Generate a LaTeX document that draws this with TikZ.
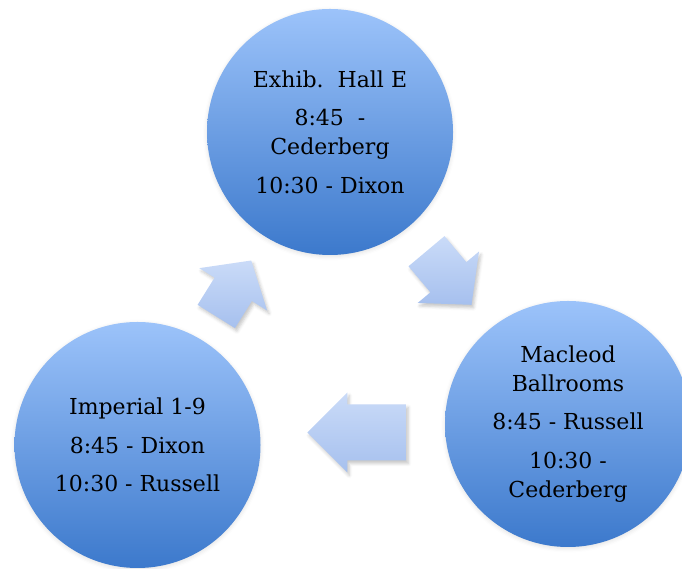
\documentclass[tikz,border=0pt]{standalone}
\usepackage{fontspec}
\setmainfont{DejaVu Serif}
\usetikzlibrary{calc,shadows.blur}
\definecolor{circtop}{HTML}{9CC3FA}
\definecolor{circbot}{HTML}{3C79CC}
\definecolor{arrtop}{HTML}{CADBF8}
\definecolor{arrbot}{HTML}{A6C0EE}
\tikzset{
  stage/.style={circle, minimum size=246pt, inner sep=0pt, top color=circtop,
    bottom color=circbot, draw=none, align=center,
    font=\fontsize{22}{29}\selectfont, text=black,
    blur shadow={shadow xshift=0pt, shadow yshift=-1.5pt, shadow opacity=12, shadow blur radius=4pt}},
  blockarrow/.style={top color=arrtop, bottom color=arrbot, draw=none,
    blur shadow={shadow xshift=2pt, shadow yshift=-3pt, shadow blur radius=3pt, shadow opacity=22}},
}
% #1 centre, #2 angle, #3 length, #4 shaft half width, #5 head length
\newcommand\cyclearrow[5]{%
  \begin{scope}[shift={(#1)}, rotate=#2]
    \path[blockarrow] (-#3/2,-#4) -- (#3/2-#5,-#4) -- (#3/2-#5,-40) -- (#3/2,0)
      -- (#3/2-#5,40) -- (#3/2-#5,#4) -- (-#3/2,#4) -- cycle;
  \end{scope}}
\begin{document}
\begin{tikzpicture}[x=1pt,y=1pt]
  \useasboundingbox (0,0) rectangle (682,569);
  \node[stage] (hall) at (330,437)
    {Exhib.\ \ Hall E\\[9.5pt]8:45\ \ -\\Cederberg\\[9.5pt]10:30 - Dixon};
  \node[stage] (macleod) at (568,145)
    {Macleod\\Ballrooms\\[9.5pt]8:45 - Russell\\[9.5pt]10:30 -\\Cederberg};
  \node[stage] (imperial) at (137.5,124)
    {Imperial 1-9\\[9.5pt]8:45 - Dixon\\[9.5pt]10:30 - Russell};
  \coordinate (a1) at ($(imperial)!0.5!(hall)$);
  \coordinate (a2) at ($(hall)!0.5!(macleod)$);
  \coordinate (a3) at ($(macleod)!0.5!(imperial)+(4,2)$);
  \cyclearrow{a1}{58}{66}{22}{34}
  \cyclearrow{a2}{-50}{70}{23.5}{36}
  \cyclearrow{a3}{180}{99}{28}{40}
\end{tikzpicture}
\end{document}
